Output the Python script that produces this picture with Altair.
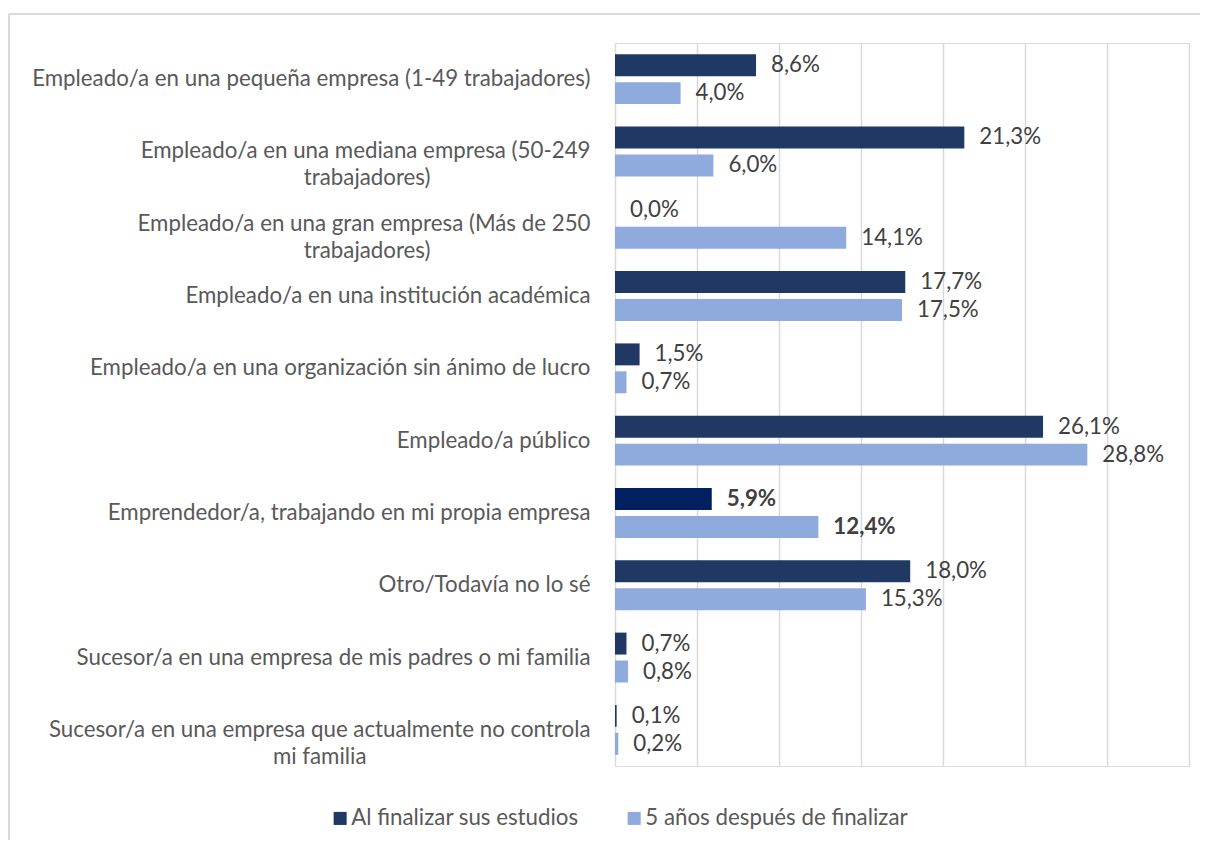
import altair as alt
import pandas as pd

categorias = [
    "Empleado/a en una pequeña empresa (1-49 trabajadores)",
    "Empleado/a en una mediana empresa (50-249|trabajadores)",
    "Empleado/a en una gran empresa (Más de 250|trabajadores)",
    "Empleado/a en una institución académica",
    "Empleado/a en una organización sin ánimo de lucro",
    "Empleado/a público",
    "Emprendedor/a, trabajando en mi propia empresa",
    "Otro/Todavía no lo sé",
    "Sucesor/a en una empresa de mis padres o mi familia",
    "Sucesor/a en una empresa que actualmente no controla|mi familia",
]
al_finalizar = [8.6, 21.3, 0.0, 17.7, 1.5, 26.1, 5.9, 18.0, 0.7, 0.1]
cinco_anos = [4.0, 6.0, 14.1, 17.5, 0.7, 28.8, 12.4, 15.3, 0.8, 0.2]
series = ["Al finalizar sus estudios", "5 años después de finalizar"]
destacado = "Emprendedor/a, trabajando en mi propia empresa"
ticks_x = [0, 5, 10, 15, 20, 25, 30, 35]

S1, S2 = series
HL = "Al finalizar (destacado)"

# blank (invisible) trailing glyphs so the second line of wrapped labels sits centred
BL = "\u2800"
relleno = {1: BL * 10, 2: BL * 10, 9: BL * 14}
cat_eje = [c + relleno.get(i, "") for i, c in enumerate(categorias)]

rows = []
for i, c in enumerate(categorias):
    for s, vals in ((S1, al_finalizar), (S2, cinco_anos)):
        v = vals[i]
        rows.append(dict(
            cat=cat_eje[i], serie=s, valor=v,
            clave=HL if (s == S1 and c == destacado) else s,
            etiqueta=f"{v:.1f}".replace(".", ",") + "%",
            peso="bold" if c == destacado else "normal",
        ))
df = pd.DataFrame(rows)

FONT = "Lato"
FS = 22.3
GRAY = "#595959"

y_enc = alt.Y("cat:N", sort=cat_eje, title=None,
              scale=alt.Scale(paddingInner=0.31, paddingOuter=0.155),
              axis=alt.Axis(labelExpr="split(datum.label, '|')", labelAlign="right",
                            labelPadding=25, labelLimit=800, labelFontSize=FS,
                            labelColor=GRAY, labelFont=FONT, labelLineHeight=27,
                            domain=False, ticks=False))
x_enc = alt.X("valor:Q", title=None,
              scale=alt.Scale(domain=[0, 35], nice=False, zero=True),
              axis=alt.Axis(values=ticks_x, labels=False, ticks=False, domain=False,
                            grid=True, gridColor="#d9d9d9", gridWidth=1.5))
yoff = alt.YOffset("serie:N", sort=series,
                   scale=alt.Scale(paddingInner=0.214, paddingOuter=0))

base = alt.Chart(df)

bars = base.mark_bar().encode(
    x=x_enc, y=y_enc, yOffset=yoff,
    color=alt.Color("clave:N",
                    scale=alt.Scale(domain=[S1, S2, HL], range=["#203864", "#8faadc", "#002060"]),
                    legend=alt.Legend(values=series, title=None, orient="none",
                                      direction="horizontal", legendX=-286, legendY=764,
                                      symbolType="square", symbolSize=170,
                                      symbolStrokeWidth=0, labelFont=FONT,
                                      labelFontSize=FS, labelColor=GRAY, labelLimit=500,
                                      labelOffset=0, columnPadding=44)),
)

txt_norm = base.transform_filter(alt.datum.peso == "normal").mark_text(
    align="left", baseline="middle", dx=15, font=FONT, fontSize=FS, color="#404040"
).encode(x="valor:Q", y=alt.Y("cat:N", sort=cat_eje), yOffset=yoff, text="etiqueta:N")

txt_bold = base.transform_filter(alt.datum.peso == "bold").mark_text(
    align="left", baseline="middle", dx=15, font=FONT, fontSize=FS, fontWeight="bold",
    color="#404040"
).encode(x="valor:Q", y=alt.Y("cat:N", sort=cat_eje), yOffset=yoff, text="etiqueta:N")

marco = alt.Data(values=[{"a": 1}])
borde_sup = alt.Chart(marco).mark_rule(color="#d9d9d9", strokeWidth=2).encode(
    x=alt.value(-606), x2=alt.value(620), y=alt.value(-29), y2=alt.value(-29))
borde_izq = alt.Chart(marco).mark_rule(color="#d9d9d9", strokeWidth=2).encode(
    x=alt.value(-606), x2=alt.value(-606), y=alt.value(-29), y2=alt.value(820))

chart = alt.layer(bars, txt_norm, txt_bold, borde_sup, borde_izq).properties(
    width=574, height=723,
    autosize=alt.AutoSizeParams(type="none"),
    padding={"left": 607, "top": 35, "right": 11, "bottom": 74},
).configure_view(stroke=None).configure(background="white")

chart.save("out.html", embed_options={"renderer": "svg", "actions": False})
